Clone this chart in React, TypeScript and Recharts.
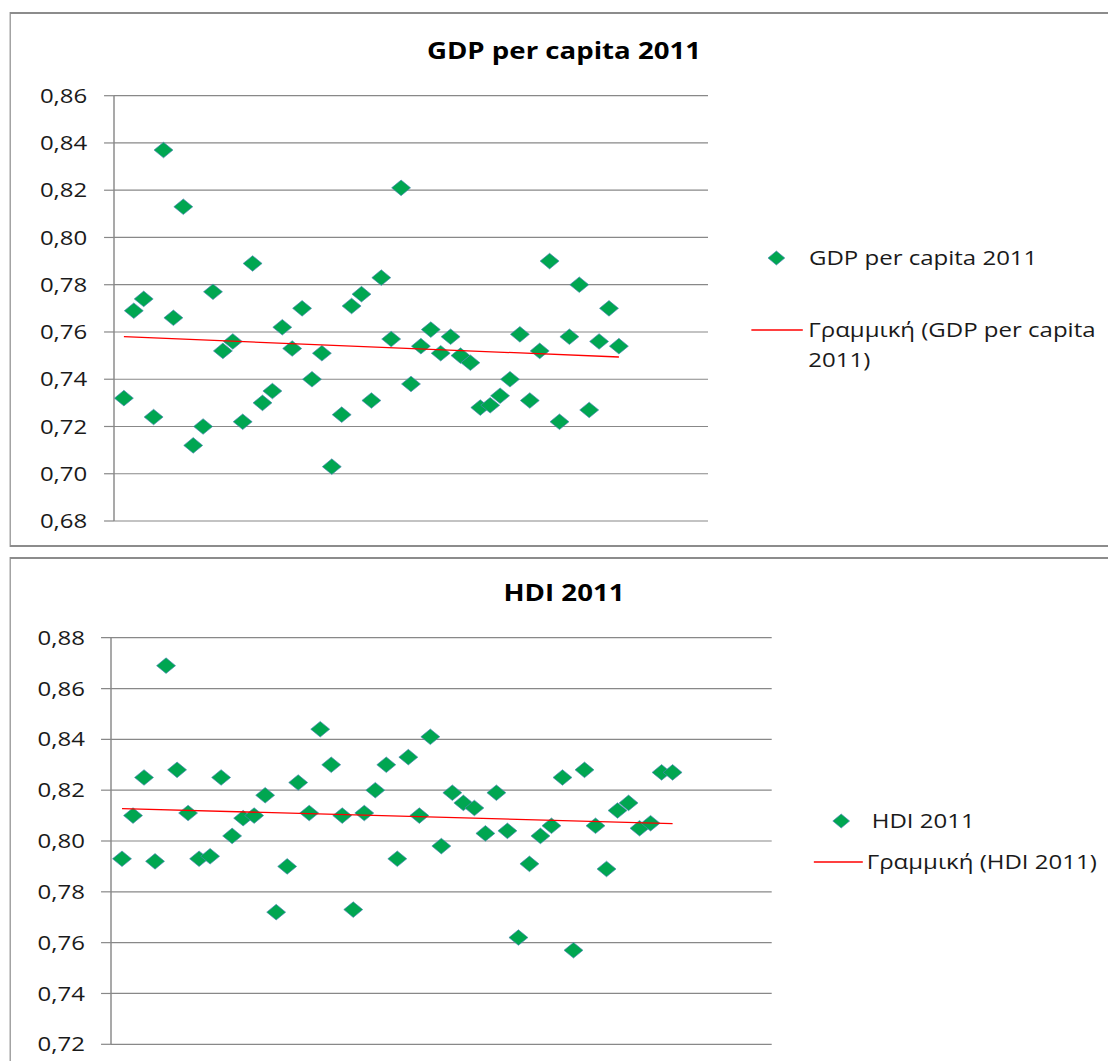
import React from 'react';
import { ScatterChart, Scatter, XAxis, YAxis, CartesianGrid } from 'recharts';

// ---- data ----
const gdpName = 'GDP per capita 2011';
const gdpTrendName = 'Γραμμική (GDP per capita 2011)';
const gdpValues = [
  0.732, 0.769, 0.774, 0.724, 0.837, 0.766, 0.813, 0.712, 0.720, 0.777,
  0.752, 0.756, 0.722, 0.789, 0.730, 0.735, 0.762, 0.753, 0.770, 0.740,
  0.751, 0.703, 0.725, 0.771, 0.776, 0.731, 0.783, 0.757, 0.821, 0.738,
  0.754, 0.761, 0.751, 0.758, 0.750, 0.747, 0.728, 0.729, 0.733, 0.740,
  0.759, 0.731, 0.752, 0.790, 0.722, 0.758, 0.780, 0.727, 0.756, 0.770,
  0.754,
];
const gdpTicks = [0.68, 0.7, 0.72, 0.74, 0.76, 0.78, 0.8, 0.82, 0.84, 0.86];

const hdiName = 'HDI 2011';
const hdiTrendName = 'Γραμμική (HDI 2011)';
const hdiValues = [
  0.793, 0.810, 0.825, 0.792, 0.869, 0.828, 0.811, 0.793, 0.794, 0.825,
  0.802, 0.809, 0.810, 0.818, 0.772, 0.790, 0.823, 0.811, 0.844, 0.830,
  0.810, 0.773, 0.811, 0.820, 0.830, 0.793, 0.833, 0.810, 0.841, 0.798,
  0.819, 0.815, 0.813, 0.803, 0.819, 0.804, 0.762, 0.791, 0.802, 0.806,
  0.825, 0.757, 0.828, 0.806, 0.789, 0.812, 0.815, 0.805, 0.807, 0.827,
  0.827,
];
const hdiTicks = [0.72, 0.74, 0.76, 0.78, 0.8, 0.82, 0.84, 0.86, 0.88];

const xDomain = [0, 60];

// ---- helpers ----
const toPoints = (vals: number[]) => vals.map((v, i) => ({ x: i + 1, y: v }));
const trendOf = (vals: number[]) => {
  const n = vals.length;
  const xs = vals.map((_, i) => i + 1);
  const mx = xs.reduce((a, b) => a + b, 0) / n;
  const my = vals.reduce((a, b) => a + b, 0) / n;
  let sxy = 0;
  let sxx = 0;
  xs.forEach((x, i) => {
    sxy += (x - mx) * (vals[i] - my);
    sxx += (x - mx) * (x - mx);
  });
  const b = sxy / sxx;
  const a = my - b * mx;
  return [
    { x: 1, y: a + b * 1 },
    { x: n, y: a + b * n },
  ];
};

const S = 1.2; // horizontal stretch of the reference
const W = 1108 / S;
const FONT = "'Open Sans', sans-serif";
const GREEN = '#00a651';
const GRID = '#888888';

const Diamond = (props: any) => {
  const { cx, cy } = props;
  if (cx == null || cy == null) return <g />;
  const hw = 7.9;
  const hh = 7.8;
  return (
    <polygon
      points={`${cx},${cy - hh} ${cx + hw},${cy} ${cx},${cy + hh} ${cx - hw},${cy}`}
      fill={GREEN}
      stroke="#4f86b8"
      strokeWidth={0.6}
    />
  );
};
const NoShape = () => <g />;
const fmt = (v: number) => v.toFixed(2).replace('.', ',');

type ChartProps = {
  values: number[];
  ticks: number[];
  top: number;
  height: number;
  plotTop: number;
  plotBottom: number;
  axisX: number;
  plotRight: number;
  tickMargin: number;
};

const Chart = ({ values, ticks, top, height, plotTop, plotBottom, axisX, plotRight, tickMargin }: ChartProps) => (
  <div style={{ position: 'absolute', left: 0, top }}>
    <ScatterChart
      width={W}
      height={height}
      margin={{ top: plotTop, bottom: height - plotBottom, left: 0, right: W - plotRight }}
    >
      <CartesianGrid vertical={false} stroke={GRID} strokeWidth={1.2} />
      <XAxis type="number" dataKey="x" domain={xDomain} hide />
      <YAxis
        type="number"
        dataKey="y"
        domain={[ticks[0], ticks[ticks.length - 1]]}
        ticks={ticks}
        interval={0}
        width={axisX}
        tickSize={8.3}
        tickMargin={tickMargin}
        tickFormatter={fmt}
        axisLine={{ stroke: GRID, strokeWidth: 1.2 }}
        tickLine={{ stroke: GRID, strokeWidth: 1.2 }}
        tick={{ fill: '#1a1a1a', fontSize: 20, fontFamily: FONT }}
      />
      <Scatter data={toPoints(values)} shape={Diamond} isAnimationActive={false} />
      <Scatter
        data={trendOf(values)}
        shape={NoShape}
        line={{ stroke: '#ff0000', strokeWidth: 1.3 }}
        isAnimationActive={false}
      />
    </ScatterChart>
  </div>
);

const LegendDiamond = ({ x, y }: { x: number; y: number }) => (
  <svg style={{ position: 'absolute', left: x - 8, top: y - 8 }} width={16} height={16}>
    <polygon points="8,1 15,8 8,15 1,8" fill={GREEN} stroke="#4f86b8" strokeWidth={0.6} />
  </svg>
);
const LegendLine = ({ x1, x2, y }: { x1: number; x2: number; y: number }) => (
  <svg style={{ position: 'absolute', left: x1, top: y - 3 }} width={x2 - x1} height={6}>
    <line x1={0} y1={3} x2={x2 - x1} y2={3} stroke="#ff0000" strokeWidth={1.4} />
  </svg>
);
const LegendText = ({ x, y, text, width }: { x: number; y: number; text: string; width?: number }) => (
  <div
    style={{
      position: 'absolute',
      left: x,
      top: y - 15,
      width: width ?? 300,
      fontFamily: FONT,
      fontSize: 20,
      lineHeight: '30px',
      color: '#1a1a1a',
      whiteSpace: width ? 'normal' : 'nowrap',
    }}
  >
    {text}
  </div>
);
const Title = ({ y, text }: { y: number; text: string }) => (
  <div
    style={{
      position: 'absolute',
      left: 470 - 200,
      top: y - 16,
      width: 400,
      textAlign: 'center',
      fontFamily: FONT,
      fontWeight: 700,
      fontSize: 23,
      lineHeight: '32px',
      color: '#000',
    }}
  >
    {text}
  </div>
);

export default function App() {
  return (
    <div style={{ position: 'absolute', left: 0, top: 0, width: 1108, height: 1061, overflow: 'hidden', background: '#fff' }}>
      <div
        style={{
          position: 'absolute',
          left: 0,
          top: 0,
          width: W,
          height: 1061,
          transform: `scaleX(${S})`,
          transformOrigin: '0 0',
        }}
      >
        {/* frames */}
        <div
          style={{
            position: 'absolute',
            left: 9 / S,
            top: 12,
            width: 1300 / S,
            height: 535,
            boxSizing: 'border-box',
            border: '2px solid #8c8c8c',
            borderLeftWidth: 1.8,
          }}
        />
        <div
          style={{
            position: 'absolute',
            left: 9 / S,
            top: 556.5,
            width: 1300 / S,
            height: 700,
            boxSizing: 'border-box',
            border: '2px solid #8c8c8c',
            borderLeftWidth: 1.8,
          }}
        />

        {/* GDP chart */}
        <Title y={50} text={gdpName} />
        <Chart
          values={gdpValues}
          ticks={gdpTicks}
          top={0}
          height={560}
          plotTop={95.7}
          plotBottom={521}
          axisX={114 / S}
          plotRight={708 / S}
          tickMargin={14}
        />
        <LegendDiamond x={776.7 / S} y={258.3} />
        <LegendText x={809 / S} y={258} text={gdpName} />
        <LegendLine x1={750.7 / S} x2={803.3 / S} y={330} />
        <LegendText x={808.3 / S} y={330} text={gdpTrendName} width={245} />

        {/* HDI chart */}
        <Title y={591.7} text={hdiName} />
        <Chart
          values={hdiValues}
          ticks={hdiTicks}
          top={550}
          height={511}
          plotTop={87.7}
          plotBottom={494.3}
          axisX={111 / S}
          plotRight={771.7 / S}
          tickMargin={13.4}
        />
        <LegendDiamond x={841.7 / S} y={820.5} />
        <LegendText x={871.7 / S} y={820.5} text={hdiName} />
        <LegendLine x1={813.3 / S} x2={863.3 / S} y={861.7} />
        <LegendText x={866.7 / S} y={861.7} text={hdiTrendName} />
      </div>
    </div>
  );
}
